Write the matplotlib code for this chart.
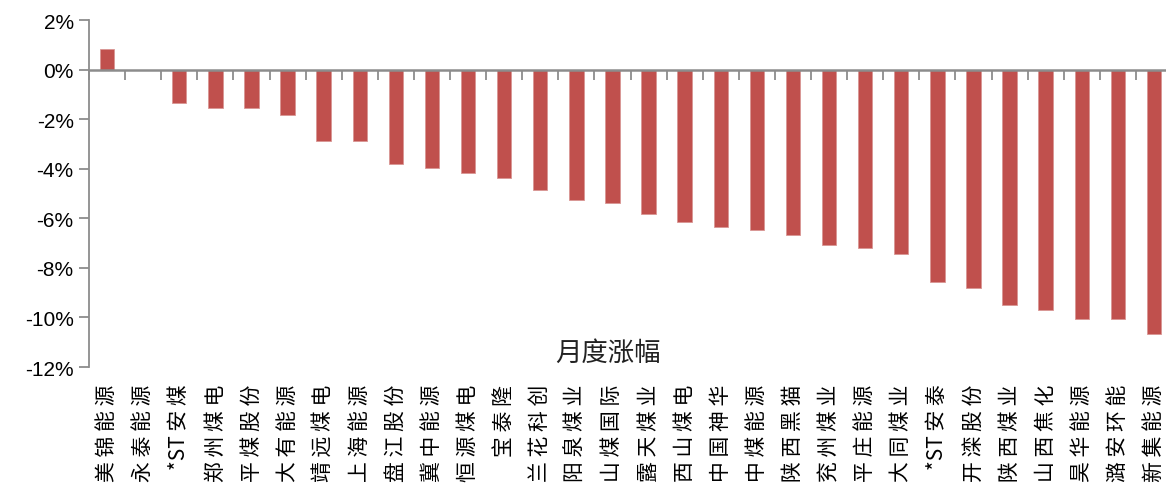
import matplotlib
matplotlib.use("Agg")
import matplotlib.pyplot as plt
import numpy as np

categories = ["美锦能源", "永泰能源", "*ST安煤", "郑州煤电", "平煤股份", "大有能源",
              "靖远煤电", "上海能源", "盘江股份", "冀中能源", "恒源煤电", "宝泰隆",
              "兰花科创", "阳泉煤业", "山煤国际", "露天煤业", "西山煤电", "中国神华",
              "中煤能源", "陕西黑猫", "兖州煤业", "平庄能源", "大同煤业", "*ST安泰",
              "开滦股份", "陕西煤业", "山西焦化", "昊华能源", "潞安环能", "新集能源"]
values = [0.85, 0.0, -1.33, -1.54, -1.54, -1.85, -2.88, -2.88, -3.79, -3.97,
          -4.16, -4.36, -4.86, -5.25, -5.39, -5.83, -6.15, -6.36, -6.48, -6.68,
          -7.06, -7.19, -7.44, -8.59, -8.80, -9.51, -9.70, -10.07, -10.07, -10.65]
yticks = [2, 0, -2, -4, -6, -8, -10, -12]
series_name = "月度涨幅"

plt.rcParams['font.family'] = ['Noto Sans CJK SC', 'DejaVu Sans']


def spaced(label):
    if label.startswith("*ST"):
        tokens = ["*ST"] + list(label[3:])
    else:
        tokens = list(label)
    return " ".join(tokens)


fig = plt.figure(figsize=(11.66, 4.89), dpi=100)
ax = fig.add_axes([89/1166, 1 - 368/489, (1172 - 89)/1166, (368 - 21)/489])

x = np.arange(len(categories))
ax.bar(x, values, width=0.4, color="#C0504D", edgecolor="#D99694", linewidth=0.6, zorder=2)

ax.set_xlim(-0.5, len(categories) - 0.5)
ax.set_ylim(-12, 2)
grey = "#8C8C8C"
ax.spines['top'].set_visible(False)
ax.spines['right'].set_visible(False)
ax.spines['left'].set_color(grey)
ax.spines['left'].set_linewidth(1.3)
ax.spines['bottom'].set_position(('data', 0))
ax.spines['bottom'].set_color(grey)
ax.spines['bottom'].set_linewidth(1.8)
ax.spines['bottom'].set_zorder(3)

ax.set_yticks(yticks)
ax.set_yticklabels([f"{v}%" for v in yticks], fontfamily=['Liberation Sans'], fontsize=15)
ax.tick_params(axis='y', direction='out', length=7, width=1.3, color=grey, pad=4)

ax.set_xticks(np.arange(-0.5, len(categories), 1.0))
ax.set_xticklabels([])
ax.tick_params(axis='x', direction='out', length=7.5, width=1.3, color=grey)

trans = ax.get_xaxis_transform()
for i, c in enumerate(categories):
    ax.text(i, -0.048, spaced(c), transform=trans, rotation=90, ha='center', va='top',
            fontsize=15, family=['Noto Sans CJK SC', 'DejaVu Sans'], color="black")

fig.text(608/1166, 1 - 353/489, series_name, ha='center', va='center', fontsize=19,
         color="#222222")

fig.savefig("out.png", dpi=100)
